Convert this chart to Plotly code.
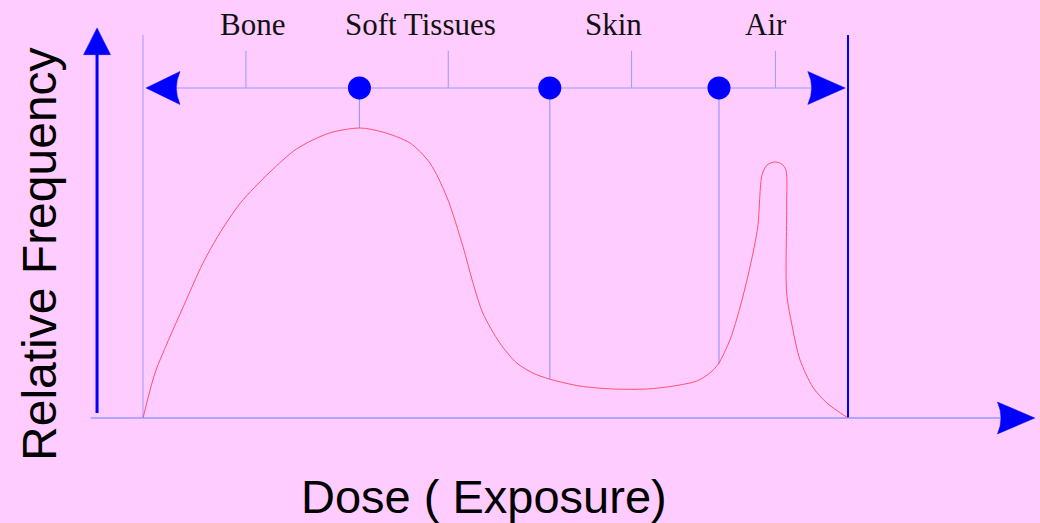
import plotly.graph_objects as go

# ---- data (dose units: 0..100 across the histogram; frequency: 0..100 at the peak) ----
curve_dose = [0, 1.7, 3.8, 5.7, 8.5, 10.9, 13.8, 18.0, 21.8, 26.5, 30.8, 34.0, 37.9, 40.7,
              43.1, 45.4, 46.8, 48.2, 50.6, 53.0, 55.3, 57.7, 62.0, 66.7, 71.5, 75.2, 78.6,
              80.4, 81.6, 83.3, 84.7, 86.1, 87.2, 87.8, 88.5, 89.6, 90.6, 91.2, 91.3, 91.3,
              92.1, 93.2, 95.0, 97.0, 100]
curve_freq = [0, 15.5, 27.9, 38.3, 53.4, 63.8, 74.1, 84.8, 92.8, 98.3, 100, 98.6, 94.8, 87.9,
              76.2, 59.0, 46.6, 36.2, 25.9, 19.0, 15.5, 13.4, 11.0, 10.0, 10.0, 11.0, 12.8,
              15.5, 18.6, 27.2, 38.3, 52.1, 65.9, 83.8, 87.2, 88.3, 87.6, 85.5, 72.8, 43.1,
              31.4, 20.0, 10.7, 5.2, 0]

region_labels = ["Bone", "Soft Tissues", "Skin", "Air"]
region_label_dose = [15.6, 39.3, 66.8, 88.3]
region_tick_dose = [14.6, 43.3, 69.3, 89.7]
boundary_dose = [30.7, 57.7, 81.7]
boundary_freq = [100, 13.4, 18.6]

x_title = "Dose ( Exposure)"
y_title = "Relative Frequency"

# ---- styling / layout constants ----
BG = "#FFCCFF"
LIGHT = "#9999FF"
BLUE = "#0000FF"
RED = "#FF5070"

X_RANGE = [-20.284, 127.234]
Y_RANGE = [-36.207, 144.138]
SCALE_Y_TOP = 113.8      # level of the top scale arrow
TICK_TOP = 126.6
LABEL_Y = 135.7
FRAME_TOP = 132.1

fig = go.Figure()

# curve
fig.add_trace(go.Scatter(x=curve_dose, y=curve_freq, mode="lines",
                         line=dict(color=RED, width=1, shape="spline", smoothing=0.8),
                         hoverinfo="skip", showlegend=False))

shapes = []

def line(x0, y0, x1, y1, color=LIGHT, width=1):
    shapes.append(dict(type="line", xref="x", yref="y", x0=x0, y0=y0, x1=x1, y1=y1,
                       line=dict(color=color, width=width), layer="below"))

def path(d, color=BLUE):
    shapes.append(dict(type="path", xref="x", yref="y", path=d,
                       fillcolor=color, line=dict(color=color, width=0.5), layer="above"))

# frame verticals
line(0, 0, 0, FRAME_TOP, LIGHT, 1)
line(100, 0, 100, FRAME_TOP, BLUE, 2)

# baseline + arrow
line(-7.4, 0, 121.8, 0, LIGHT, 1.5)
path("M 126.5,0 L 121.2,5.5 Q 122.2,0 121.2,-5.5 Z")

# vertical y axis arrow
line(-6.52, 1.7, -6.52, 126, BLUE, 3)
path("M -6.52,134.5 L -8.43,125.3 L -4.61,125.3 Z")

# top scale double arrow
line(4.5, SCALE_Y_TOP, 95.0, SCALE_Y_TOP, LIGHT, 1.2)
path(f"M 0.43,{SCALE_Y_TOP} L 5.25,{SCALE_Y_TOP+5.69} Q 4.2,{SCALE_Y_TOP} 5.25,{SCALE_Y_TOP-5.69} Z")
path(f"M 99.6,{SCALE_Y_TOP} L 94.3,{SCALE_Y_TOP+5.69} Q 95.4,{SCALE_Y_TOP} 94.3,{SCALE_Y_TOP-5.69} Z")

# ticks
for xd in region_tick_dose:
    line(xd, SCALE_Y_TOP, xd, TICK_TOP, LIGHT, 1)

# boundary drop lines
for xd, yf in zip(boundary_dose, boundary_freq):
    line(xd, SCALE_Y_TOP, xd, yf, LIGHT, 1.2)

# boundary dots
fig.add_trace(go.Scatter(x=boundary_dose, y=[SCALE_Y_TOP] * len(boundary_dose), mode="markers",
                         marker=dict(color=BLUE, size=23, line=dict(width=0)),
                         hoverinfo="skip", showlegend=False))

annotations = []
for lab, xd in zip(region_labels, region_label_dose):
    annotations.append(dict(x=xd, y=LABEL_Y, xref="x", yref="y", text=lab, showarrow=False,
                            font=dict(family="Liberation Serif, Times New Roman, serif",
                                      size=31, color="#111111"),
                            xanchor="center", yanchor="middle"))

annotations.append(dict(x=48.4, y=-27.0, xref="x", yref="y", text=x_title, showarrow=False,
                        font=dict(family="Liberation Sans, Arial, sans-serif", size=47, color="#000000"),
                        xanchor="center", yanchor="middle"))
annotations.append(dict(x=-14.6, y=56.6, xref="x", yref="y", text=y_title, showarrow=False,
                        textangle=-90,
                        font=dict(family="Liberation Sans, Arial, sans-serif", size=48, color="#000000"),
                        xanchor="center", yanchor="middle"))

fig.update_layout(
    width=1040, height=523,
    margin=dict(l=0, r=0, t=0, b=0),
    paper_bgcolor=BG, plot_bgcolor=BG,
    xaxis=dict(range=X_RANGE, visible=False, fixedrange=True),
    yaxis=dict(range=Y_RANGE, visible=False, fixedrange=True),
    shapes=shapes, annotations=annotations, showlegend=False,
)

fig.write_html(
    "out.html",
    config={"displayModeBar": False},
    post_script="document.body.style.margin='0';document.body.style.padding='0';"
                "document.body.style.overflow='hidden';document.body.style.background='#FFCCFF';",
)
